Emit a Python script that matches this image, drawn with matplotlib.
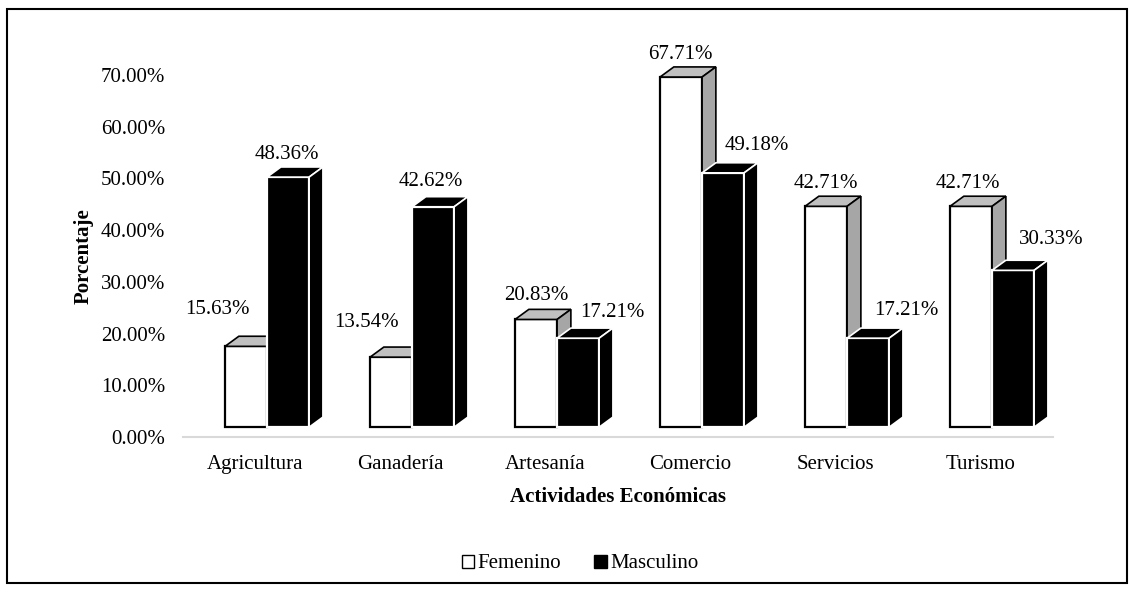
import numpy as np
import matplotlib.pyplot as plt
from matplotlib.patches import Polygon, Rectangle, Patch

categorias = ["Agricultura", "Ganadería", "Artesanía", "Comercio", "Servicios", "Turismo"]
femenino = [15.63, 13.54, 20.83, 67.71, 42.71, 42.71]
masculino = [48.36, 42.62, 17.21, 49.18, 17.21, 30.33]
yticks = [0, 10, 20, 30, 40, 50, 60, 70]

# label nudges (pixels) as placed in the original chart
lab_fem = [(-29, 37), (-25, 35), (0, 24), (-1, 23), (0, 23), (-3, 23)]
lab_mas = [(-1, 23), (-2, 25), (34, 26), (34, 27), (38, 28), (38, 31)]

plt.rcParams['font.family'] = ['Liberation Serif', 'DejaVu Serif']
FS = 15

fig = plt.figure(figsize=(11.35, 5.92), dpi=100)
ax = fig.add_axes([183 / 1135, 1 - 437 / 592, 870 / 1135, 362 / 592])
ax.set_xlim(-0.5, 5.5)
ax.set_ylim(0, 70)

w = 0.29          # bar width (x units)
ddx = 0.095       # depth, x
ddy = 1.95        # depth, y (%)
base = 1.9        # lift of the front face above floor


def box(x0, v, front, top, side, edge):
    y0 = base
    y1 = v + base
    ax.add_patch(Rectangle((x0, y0), w, v, facecolor=front, edgecolor=edge,
                           lw=1.6, clip_on=False, zorder=3))
    ax.add_patch(Polygon([(x0, y1), (x0 + w, y1), (x0 + w + ddx, y1 + ddy), (x0 + ddx, y1 + ddy)],
                         closed=True, facecolor=top, edgecolor=edge, lw=1.2,
                         clip_on=False, zorder=3))
    ax.add_patch(Polygon([(x0 + w, y0), (x0 + w, y1), (x0 + w + ddx, y1 + ddy), (x0 + w + ddx, y0 + ddy)],
                         closed=True, facecolor=side, edgecolor=edge, lw=1.2,
                         clip_on=False, zorder=3))


x = np.arange(len(categorias))
for i in x:
    xf = i - 0.21
    xm = xf + w
    box(xf, femenino[i], "white", "#c0c0c0", "#a6a6a6", "black")
    box(xm, masculino[i], "black", "black", "black", "white")
    ax.annotate(f"{femenino[i]:.2f}%", (xf + w / 2, femenino[i] + base),
                xytext=lab_fem[i], textcoords="offset pixels",
                ha="center", va="center", fontsize=FS, zorder=5)
    ax.annotate(f"{masculino[i]:.2f}%", (xm + w / 2, masculino[i] + base),
                xytext=lab_mas[i], textcoords="offset pixels",
                ha="center", va="center", fontsize=FS, zorder=5)

ax.set_yticks(yticks)
ax.set_yticklabels([f"{t:.2f}%" for t in yticks], fontsize=FS)
ax.set_xticks(x)
ax.set_xticklabels(categorias, fontsize=FS)
ax.tick_params(axis="both", length=0)
ax.tick_params(axis="y", pad=13)
ax.tick_params(axis="x", pad=13)
for s in ["top", "right", "left"]:
    ax.spines[s].set_visible(False)
ax.spines["bottom"].set_color("#d9d9d9")
ax.spines["bottom"].set_linewidth(1.5)

ax.set_ylabel("Porcentaje", fontsize=FS, fontweight="bold", labelpad=5)
ax.set_xlabel("Actividades Económicas", fontsize=FS, fontweight="bold", labelpad=9)

handles = [Patch(facecolor="white", edgecolor="black", lw=1),
           Patch(facecolor="black", edgecolor="black")]
fig.legend(handles, ["Femenino", "Masculino"], loc="center",
           bbox_to_anchor=(580 / 1135, 1 - 564 / 592), ncol=2, frameon=False,
           fontsize=FS, handlelength=0.6, handleheight=0.6, handletextpad=0.15,
           columnspacing=1.6)

# outer chart border
fig.add_artist(Rectangle((7 / 1135, 1 - 583 / 592), 1120 / 1135, 574 / 592,
                         transform=fig.transFigure, fill=False, edgecolor="black", lw=1.5))

fig.savefig("out.png", dpi=100)
